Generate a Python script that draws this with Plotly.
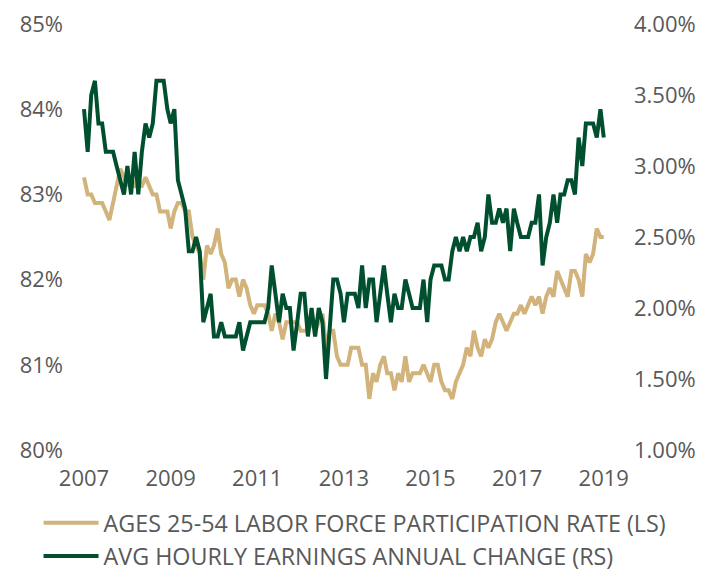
import pandas as pd
import plotly.graph_objects as go

start_month = "2007-03-01"

lfpr_25_54 = [
    83.2, 83.0, 83.0, 82.9, 82.9, 82.9, 82.8, 82.7, 82.9, 83.1, 83.3, 83.2,
    83.1, 83.2, 83.1, 83.1, 83.1, 83.2, 83.1, 83.0, 83.0, 82.8, 82.8, 82.8,
    82.6, 82.8, 82.9, 82.9, 82.8, 82.8, 82.5, 82.4, 82.3, 82.0, 82.4, 82.3,
    82.4, 82.6, 82.3, 82.2, 81.9, 82.0, 82.0, 81.8, 82.0, 81.9, 81.7, 81.6,
    81.7, 81.7, 81.7, 81.6, 81.4, 81.6, 81.5, 81.3, 81.5, 81.5, 81.5, 81.5,
    81.4, 81.4, 81.4, 81.5, 81.4, 81.5, 81.6, 81.2, 81.4, 81.4, 81.1, 81.0,
    81.0, 81.0, 81.2, 81.2, 81.2, 81.0, 81.0, 80.6, 80.9, 80.8, 81.0, 81.1,
    80.9, 80.9, 80.7, 80.9, 80.8, 81.1, 80.8, 80.9, 80.9, 80.9, 81.0, 80.9,
    80.8, 81.0, 81.0, 80.8, 80.7, 80.7, 80.6, 80.8, 80.9, 81.0, 81.2, 81.1,
    81.4, 81.2, 81.1, 81.3, 81.2, 81.3, 81.5, 81.6, 81.5, 81.4, 81.5, 81.6,
    81.6, 81.7, 81.6, 81.7, 81.8, 81.7, 81.8, 81.6, 81.8, 81.9, 81.8, 82.1,
    82.0, 81.9, 81.8, 82.1, 82.1, 82.0, 81.8, 82.3, 82.2, 82.3, 82.6, 82.5,
    82.5,
]

ahe_yoy = [
    3.4, 3.1, 3.5, 3.6, 3.3, 3.3, 3.1, 3.1, 3.1, 3.0, 2.9, 2.8,
    3.0, 2.8, 3.1, 2.8, 3.1, 3.3, 3.2, 3.3, 3.6, 3.6, 3.6, 3.4,
    3.3, 3.4, 2.9, 2.8, 2.7, 2.4, 2.4, 2.5, 2.4, 1.9, 2.0, 2.1,
    1.8, 1.8, 1.9, 1.8, 1.8, 1.8, 1.8, 1.9, 1.7, 1.8, 1.9, 1.9,
    1.9, 1.9, 1.9, 2.0, 2.3, 2.1, 1.9, 2.1, 2.0, 2.0, 1.7, 1.9,
    2.1, 2.1, 1.8, 2.0, 1.8, 2.0, 1.9, 1.5, 1.9, 2.2, 2.2, 2.1,
    1.9, 2.1, 2.1, 2.1, 2.0, 2.3, 2.0, 2.2, 2.2, 1.9, 2.1, 2.3,
    2.1, 1.9, 2.1, 2.0, 2.0, 2.2, 2.1, 2.0, 2.0, 2.0, 2.2, 1.9,
    2.2, 2.3, 2.3, 2.3, 2.2, 2.2, 2.4, 2.5, 2.4, 2.5, 2.4, 2.5,
    2.5, 2.6, 2.4, 2.5, 2.8, 2.6, 2.6, 2.7, 2.6, 2.7, 2.4, 2.7,
    2.6, 2.5, 2.5, 2.5, 2.6, 2.6, 2.8, 2.3, 2.5, 2.6, 2.8, 2.6,
    2.8, 2.8, 2.9, 2.9, 2.8, 3.2, 3.0, 3.3, 3.3, 3.3, 3.2, 3.4,
    3.2,
]

year_labels = ["2007", "2009", "2011", "2013", "2015", "2017", "2019"]
series_names = [
    "AGES 25-54 LABOR FORCE PARTICIPATION RATE (LS)",
    "AVG HOURLY EARNINGS ANNUAL CHANGE (RS)",
]

dates = pd.date_range(start_month, periods=len(lfpr_25_54), freq="MS")
tick_dates = [pd.Timestamp(f"{y}-03-01") for y in year_labels]

TAN = "#D2B37B"
GREEN = "#00502F"
GREY = "#595959"
FONT = "Open Sans"
TICK_SIZE = 22

fig = go.Figure()
fig.add_trace(go.Scatter(
    x=dates, y=lfpr_25_54, name=series_names[0], mode="lines",
    line=dict(color=TAN, width=4), yaxis="y",
))
fig.add_trace(go.Scatter(
    x=dates, y=ahe_yoy, name=series_names[1], mode="lines",
    line=dict(color=GREEN, width=4), yaxis="y2",
))

fig.update_layout(
    width=711, height=571,
    margin=dict(l=69, r=108, t=16, b=129, autoexpand=False),
    paper_bgcolor="white", plot_bgcolor="white",
    font=dict(family=FONT, color=GREY, size=TICK_SIZE),
    showlegend=True,
    legend=dict(
        orientation="v", x=-0.072, y=-0.12, xanchor="left", yanchor="top",
        font=dict(family=FONT, size=23.3, color=GREY),
        tracegroupgap=0, itemwidth=55,
        bgcolor="rgba(0,0,0,0)",
    ),
    xaxis=dict(
        type="date",
        range=[pd.Timestamp("2007-01-01"), pd.Timestamp("2019-05-01")],
        tickvals=tick_dates, ticktext=year_labels,
        showgrid=False, zeroline=False, showline=False, ticks="",
        tickfont=dict(family=FONT, size=TICK_SIZE, color=GREY),
        ticklabelstandoff=13, ticklabeloverflow="allow",
    ),
    yaxis=dict(
        range=[80, 85], dtick=1, ticksuffix="%",
        showgrid=False, zeroline=False, showline=False, ticks="",
        tickfont=dict(family=FONT, size=TICK_SIZE, color=GREY),
        ticklabelstandoff=13, ticklabeloverflow="allow",
    ),
    yaxis2=dict(
        range=[1, 4], dtick=0.5, tickformat=".2f", ticksuffix="%",
        overlaying="y", side="right",
        showgrid=False, zeroline=False, showline=False, ticks="",
        tickfont=dict(family=FONT, size=TICK_SIZE, color=GREY),
        ticklabelstandoff=22, ticklabeloverflow="allow",
    ),
)

fig.write_html("out.html")
